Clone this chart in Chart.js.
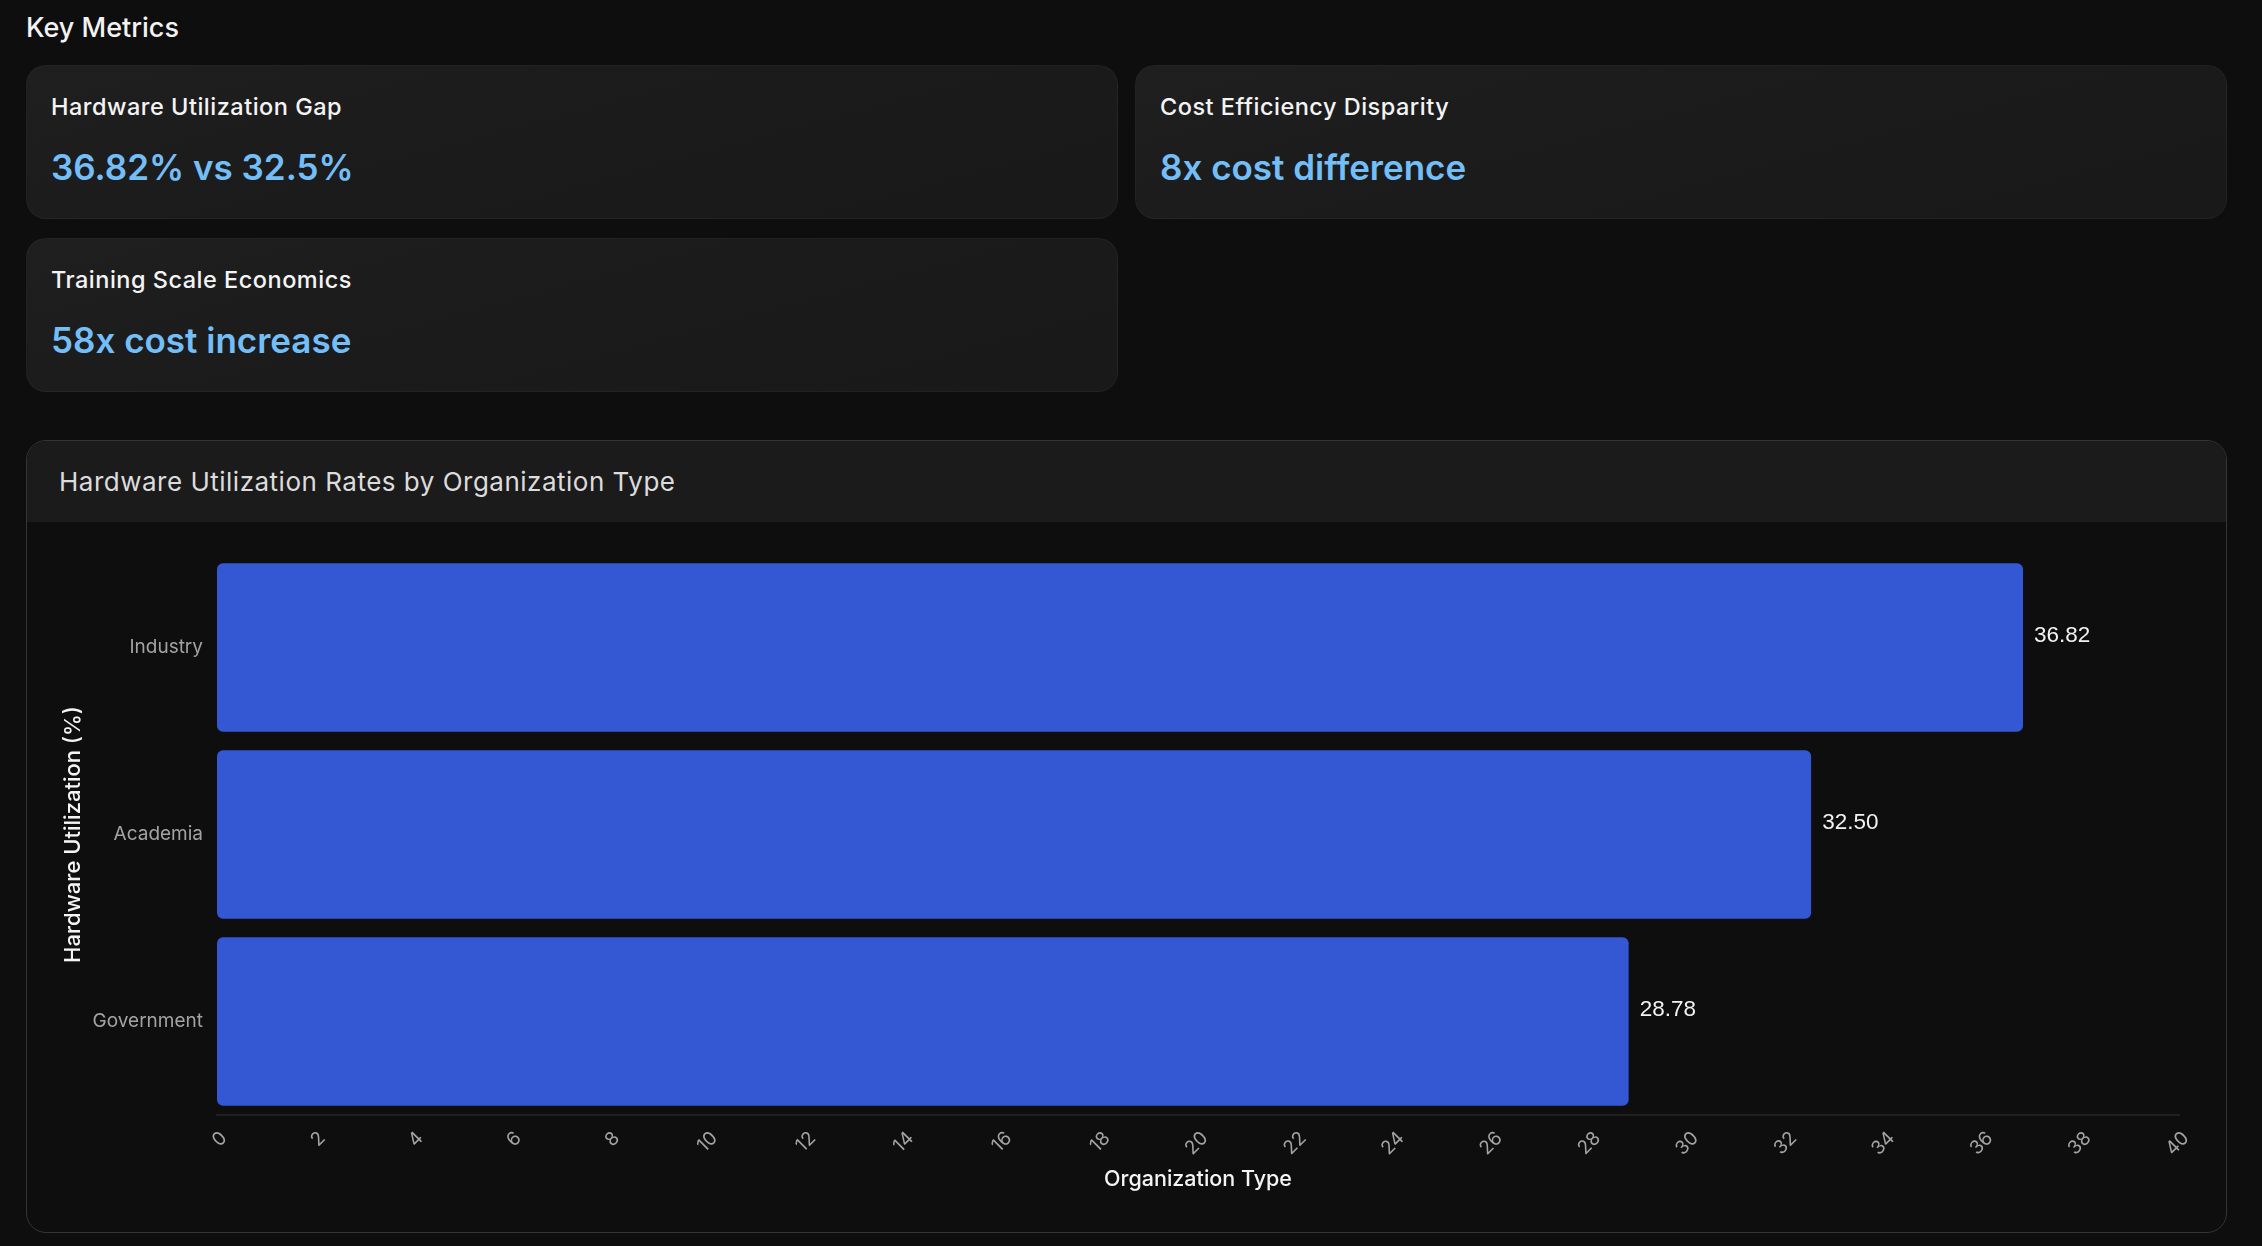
<!DOCTYPE html>
<html>
<head>
<meta charset="utf-8">
<script src="https://cdn.jsdelivr.net/npm/chart.js@4.4.1/dist/chart.umd.min.js"></script>
<style>
  html, body { margin: 0; padding: 0; background: #0e0e0e; }
  body { width: 2262px; height: 1246px; position: relative; overflow: hidden; font-family: Inter, "Noto Sans", sans-serif; }
  .heading { position: absolute; left: 26px; top: 11px; height: 34px; line-height: 34px; font-size: 27px; font-weight: 500; color: #f2f2f2; }
  .card { position: absolute; width: 1092px; height: 154px; box-sizing: border-box; border-radius: 20px;
          background: linear-gradient(165deg, #1f1f20 0%, #1b1b1c 45%, #19191a 100%);
          border: 1px solid rgba(255,255,255,0.035); }
  .card .t { position: absolute; left: 24px; top: 27px; line-height: 28px; font-size: 23.5px; letter-spacing: 0.5px; font-weight: 500; color: #f4f4f4; }
  .card .v { position: absolute; left: 24px; top: 78px; line-height: 46px; font-size: 35px; font-weight: 600; color: #74bef8; }
  .chartcard { position: absolute; left: 26px; top: 440px; width: 2201px; height: 793px; box-sizing: border-box;
               border: 1px solid #353537; border-radius: 20px; overflow: hidden; background: #0e0e0e; }
  .chartcard .hdr { height: 81px; background: #1b1b1c; position: relative; }
  .chartcard .hdr span { position: absolute; left: 32px; top: 24px; line-height: 34px; font-size: 26px; letter-spacing: 0.5px; font-weight: 400; color: #dcdcdc; }
  .chartbox { position: relative; width: 2199px; height: 710px; }
</style>
</head>
<body>
<div class="heading">Key Metrics</div>
<div class="card" style="left:26px;top:65px;"><div class="t">Hardware Utilization Gap</div><div class="v">36.82% vs 32.5%</div></div>
<div class="card" style="left:1135px;top:65px;"><div class="t">Cost Efficiency Disparity</div><div class="v">8x cost difference</div></div>
<div class="card" style="left:26px;top:238px;"><div class="t">Training Scale Economics</div><div class="v">58x cost increase</div></div>

<div class="chartcard">
  <div class="hdr"><span>Hardware Utilization Rates by Organization Type</span></div>
  <div class="chartbox"><canvas id="c"></canvas></div>
</div>

<script>
const categories = ["Industry", "Academia", "Government"];
const utilization = [36.82, 32.50, 28.78];
const axisMin = 0;
const axisMax = 40;
const axisStep = 2;
const valueAxisTitle = "Organization Type";
const categoryAxisTitle = "Hardware Utilization (%)";

const valueLabels = {
  id: 'valueLabels',
  afterDatasetsDraw(chart) {
    const ctx = chart.ctx;
    const meta = chart.getDatasetMeta(0);
    ctx.save();
    ctx.font = '22.5px "Liberation Sans", Arial, sans-serif';
    ctx.fillStyle = '#f2f2f2';
    ctx.textAlign = 'left';
    ctx.textBaseline = 'middle';
    meta.data.forEach((bar, i) => {
      ctx.fillText(utilization[i].toFixed(2), bar.x + 11, bar.y - 12);
    });
    ctx.restore();
  }
};

new Chart(document.getElementById('c'), {
  type: 'bar',
  data: {
    labels: categories,
    datasets: [{
      data: utilization,
      backgroundColor: '#3457d4',
      borderRadius: 6,
      borderSkipped: false,
      categoryPercentage: 1.0,
      barPercentage: 0.9
    }]
  },
  options: {
    indexAxis: 'y',
    responsive: true,
    maintainAspectRatio: false,
    animation: false,
    layout: { padding: { top: 32, right: 47, bottom: 0, left: 0 } },
    plugins: { legend: { display: false }, tooltip: { enabled: false } },
    scales: {
      x: {
        min: axisMin, max: axisMax,
        grid: { display: false, drawTicks: false },
        border: { display: true, color: '#1f1f1f', width: 2 },
        ticks: { stepSize: axisStep, minRotation: 45, maxRotation: 45, padding: 12, labelOffset: 7,
                 color: '#a3a3a3', font: { family: 'Inter', size: 19 } },
        title: { display: true, text: valueAxisTitle, color: '#f4f4f4',
                 font: { family: 'Inter', size: 21.5, weight: '500' }, padding: { top: 0, bottom: 40 } },
        afterFit(scale) { scale.height = 117; }
      },
      y: {
        grid: { display: false, drawTicks: false },
        border: { display: false },
        ticks: { padding: 14, color: '#a3a3a3', font: { family: 'Inter', size: 19 } },
        title: { display: true, text: categoryAxisTitle, color: '#f4f4f4',
                 font: { family: 'Inter', size: 22, weight: '500' }, padding: { top: 33, bottom: 0 } },
        afterFit(scale) { scale.width = 190; }
      }
    }
  },
  plugins: [valueLabels]
});
</script>
</body>
</html>
